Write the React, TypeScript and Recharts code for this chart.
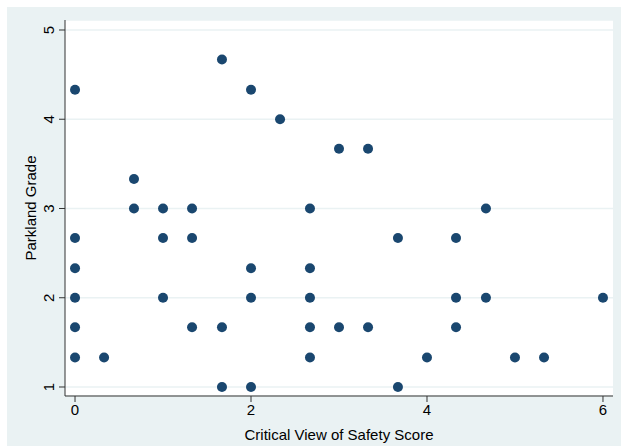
import React from 'react';
import { ScatterChart, Scatter, XAxis, YAxis, CartesianGrid, Label } from 'recharts';

// Critical View of Safety score vs Parkland grade, one entry per case
const cvsScore = [
  0, 0, 0, 0, 0, 0,
  0.33,
  0.67, 0.67,
  1, 1, 1,
  1.33, 1.33, 1.33,
  1.67, 1.67, 1.67,
  2, 2, 2, 2,
  2.33,
  2.67, 2.67, 2.67, 2.67, 2.67,
  3, 3,
  3.33, 3.33,
  3.67, 3.67,
  4,
  4.33, 4.33, 4.33,
  4.67, 4.67,
  5,
  5.33,
  6,
];
const parklandGrade = [
  4.33, 2.67, 2.33, 2, 1.67, 1.33,
  1.33,
  3.33, 3,
  3, 2.67, 2,
  3, 2.67, 1.67,
  4.67, 1.67, 1,
  4.33, 2.33, 2, 1,
  4,
  3, 2.33, 2, 1.67, 1.33,
  3.67, 1.67,
  3.67, 1.67,
  2.67, 1,
  1.33,
  2.67, 2, 1.67,
  3, 2,
  1.33,
  1.33,
  2,
];
const xTicks = [0, 2, 4, 6];
const yTicks = [1, 2, 3, 4, 5];

const data = cvsScore.map((x, i) => ({ x, y: parklandGrade[i] }));

const FONT = '"Liberation Sans", Arial, Helvetica, sans-serif';
const PANEL = '#eaf2f3';
const NAVY = '#1a476f';

const YTick = ({ x, y, payload }: any) => (
  <g transform={`translate(${x},${y}) rotate(-90)`}>
    <text x={0} y={-1} textAnchor="middle" fontSize={15} fontFamily={FONT} fill="#000">
      {payload.value}
    </text>
  </g>
);

const Dot = ({ cx, cy }: any) => <circle cx={cx} cy={cy} r={5} fill={NAVY} />;

const YTitle = ({ viewBox }: any) => {
  const cy = viewBox.y + viewBox.height / 2;
  return (
    <text
      transform={`translate(24,${cy}) rotate(-90)`}
      x={0}
      y={5}
      textAnchor="middle"
      fontSize={15}
      fontFamily={FONT}
      fill="#000"
    >
      Parkland Grade
    </text>
  );
};

export default function App() {
  return (
    <div style={{ position: 'absolute', left: 0, top: 0, width: 621, height: 446, background: '#fff' }}>
      <div style={{ position: 'absolute', left: 7, top: 7, width: 614, height: 439, background: PANEL }}>
        <ScatterChart width={614} height={439} margin={{ top: 13, right: 8, bottom: 0, left: 0 }}>
          <CartesianGrid vertical={false} stroke={PANEL} strokeWidth={1.5} fill="#fff" />
          <XAxis
            type="number"
            dataKey="x"
            domain={[-0.114, 6.114]}
            ticks={xTicks}
            allowDataOverflow
            height={50}
            stroke="#333"
            tickSize={6}
            tickMargin={2}
            tick={{ fontSize: 15, fontFamily: FONT, fill: '#000' }}
          >
            <Label
              value="Critical View of Safety Score"
              position="insideBottom"
              offset={6}
              style={{ fontSize: 15, fontFamily: FONT, fill: '#000' }}
            />
          </XAxis>
          <YAxis
            type="number"
            dataKey="y"
            domain={[0.899, 5.112]}
            ticks={yTicks}
            allowDataOverflow
            width={58}
            stroke="#333"
            tickSize={6}
            tickMargin={4}
            tick={<YTick />}
          >
            <Label content={<YTitle />} />
          </YAxis>
          <Scatter data={data} shape={<Dot />} isAnimationActive={false} />
        </ScatterChart>
      </div>
    </div>
  );
}
